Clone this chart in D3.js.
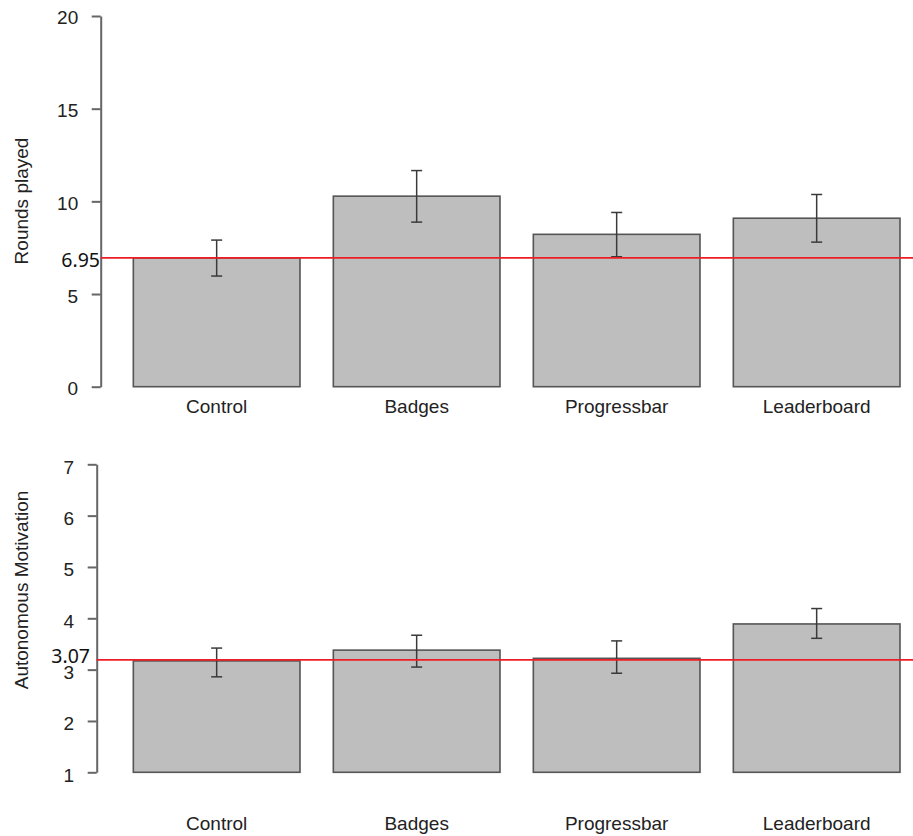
<!DOCTYPE html>
<html>
<head>
<meta charset="utf-8">
<script src="https://cdn.jsdelivr.net/npm/d3@7"></script>
<style>
  body { margin: 0; background: #fff; }
  svg { display: block; font-family: "Liberation Sans", Arial, sans-serif; }
</style>
</head>
<body>
<div id="chart"></div>
<script>
// Data
const categories = ["Control", "Badges", "Progressbar", "Leaderboard"];

const roundsMean = [6.95, 10.28, 8.22, 9.09];
const roundsUpper = [7.91, 11.66, 9.4, 10.37];
const roundsLower = [5.97, 8.88, 7.01, 7.8];
const roundsTicks = [0, 5, 10, 15, 20];

const motivationMean = [3.17, 3.38, 3.22, 3.89];
const motivationUpper = [3.42, 3.67, 3.56, 4.19];
const motivationLower = [2.86, 3.05, 2.93, 3.61];
const motivationTicks = [1, 2, 3, 4, 5, 6, 7];

const refValues = [6.95, 3.19];
const refLabels = ["6.95", "3.07"];

// Dimensions
const width = 913;
const height = 836;

const panels = [
  {
    title: "Rounds played",
    mean: roundsMean, upper: roundsUpper, lower: roundsLower,
    ticks: roundsTicks, domain: [0, 20],
    yRange: [386.7, 16], axisX: 100.7, labelY: 413, titleY: 201,
    tickDy: "0.42em",
    ref: refValues[0], refLabel: refLabels[0], refLabelX: 100, refLabelDy: 9
  },
  {
    title: "Autonomous Motivation",
    mean: motivationMean, upper: motivationUpper, lower: motivationLower,
    ticks: motivationTicks, domain: [1, 7],
    yRange: [772.3, 464.3], axisX: 96.7, labelY: 830, titleY: 590,
    tickDy: "0.47em",
    ref: refValues[1], refLabel: refLabels[1], refLabelX: 90, refLabelDy: 2.7
  }
];

// Style
const barFill = "#bebebe";
const barStroke = "#555";
const refColor = "#ee1c25";
const textColor = "#222";

const svg = d3.select("#chart")
  .append("svg")
  .attr("width", width)
  .attr("height", height);

const x = d3.scaleBand()
  .domain(categories)
  .range([133.33, 900])
  .paddingInner(1 / 6)
  .paddingOuter(0);

panels.forEach((p) => {
  const y = d3.scaleLinear().domain(p.domain).range(p.yRange);
  const g = svg.append("g");
  const rows = categories.map((c, i) => ({
    name: c, mean: p.mean[i], upper: p.upper[i], lower: p.lower[i]
  }));

  // Bars
  g.selectAll("rect.bar")
    .data(rows)
    .join("rect")
    .attr("class", "bar")
    .attr("x", (d) => x(d.name))
    .attr("width", x.bandwidth())
    .attr("y", (d) => y(d.mean))
    .attr("height", (d) => y(p.domain[0]) - y(d.mean))
    .attr("fill", barFill)
    .attr("stroke", barStroke)
    .attr("stroke-width", 1.6);

  // Error bars
  const err = g.selectAll("g.err")
    .data(rows)
    .join("g")
    .attr("class", "err")
    .attr("transform", (d) => `translate(${x(d.name) + x.bandwidth() / 2},0)`)
    .attr("stroke", "#3a3a3a")
    .attr("stroke-width", 1.5);
  err.append("line")
    .attr("y1", (d) => y(d.upper))
    .attr("y2", (d) => y(d.lower));
  err.append("line")
    .attr("x1", -5.5).attr("x2", 5.5)
    .attr("y1", (d) => y(d.upper)).attr("y2", (d) => y(d.upper));
  err.append("line")
    .attr("x1", -5.5).attr("x2", 5.5)
    .attr("y1", (d) => y(d.lower)).attr("y2", (d) => y(d.lower));

  // Y axis
  const axis = g.append("g")
    .attr("transform", `translate(${p.axisX},0)`)
    .call(
      d3.axisLeft(y)
        .tickValues(p.ticks)
        .tickSize(9)
        .tickSizeOuter(0)
        .tickPadding(13.5)
        .tickFormat(d3.format("d"))
    );
  axis.select(".domain").attr("stroke", "#666").attr("stroke-width", 2);
  axis.selectAll(".tick line").attr("stroke", "#666").attr("stroke-width", 2);
  axis.selectAll(".tick text")
    .attr("dy", p.tickDy)
    .attr("fill", textColor)
    .style("font-size", "19px")
    .style("font-family", "'Liberation Sans', Arial, sans-serif");

  // Reference line
  g.append("line")
    .attr("x1", p.axisX)
    .attr("x2", width)
    .attr("y1", y(p.ref))
    .attr("y2", y(p.ref))
    .attr("stroke", refColor)
    .attr("stroke-width", 1.6);
  g.append("text")
    .attr("x", p.refLabelX)
    .attr("y", y(p.ref) + p.refLabelDy)
    .attr("text-anchor", "end")
    .attr("fill", "#111")
    .style("font-family", "'Noto Sans', 'Open Sans', sans-serif")
    .style("font-size", "19.5px")
    .text(p.refLabel);

  // Category labels
  g.selectAll("text.cat")
    .data(rows)
    .join("text")
    .attr("class", "cat")
    .attr("x", (d) => x(d.name) + x.bandwidth() / 2)
    .attr("y", p.labelY)
    .attr("text-anchor", "middle")
    .attr("fill", textColor)
    .style("font-size", "19px")
    .text((d) => d.name);

  // Axis title
  g.append("text")
    .attr("transform", `translate(28,${p.titleY}) rotate(-90)`)
    .attr("text-anchor", "middle")
    .attr("fill", textColor)
    .style("font-size", "19px")
    .text(p.title);
});
</script>
</body>
</html>
